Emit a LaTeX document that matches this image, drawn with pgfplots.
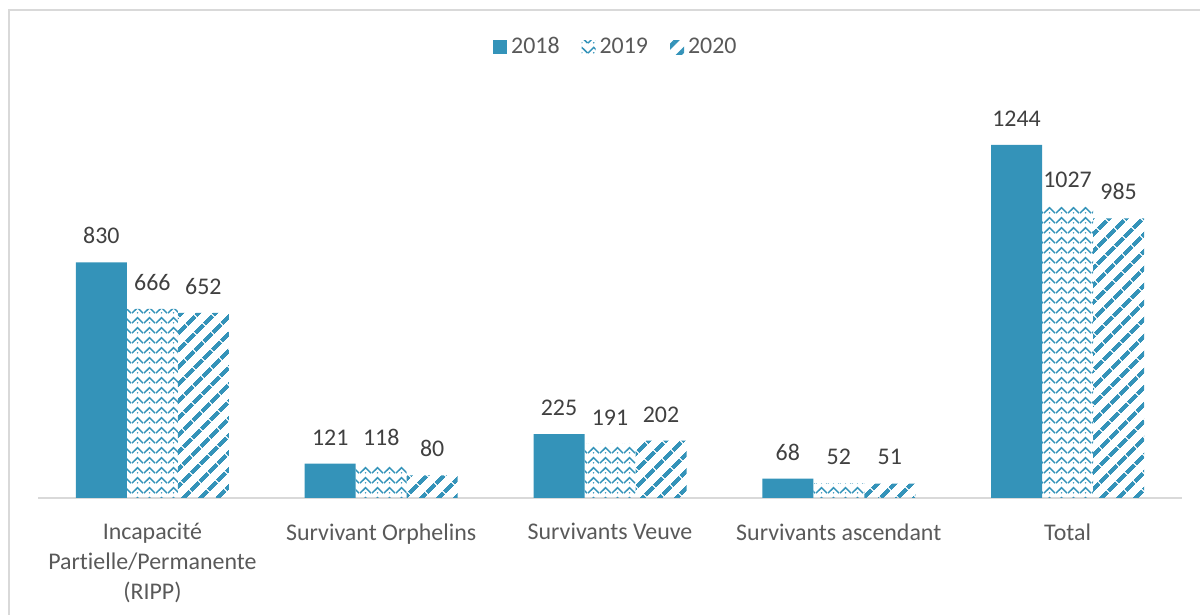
\documentclass[border=0pt]{standalone}
\usepackage{pgfplots}
\pgfplotsset{compat=1.18}
\usepackage{fontspec}
\setmainfont{Carlito}[Ligatures=NoCommon]
\usetikzlibrary{patterns,patterns.meta}
\definecolor{barblue}{RGB}{52,147,185}
\definecolor{labgray}{RGB}{89,89,89}
\definecolor{datgray}{RGB}{64,64,64}
\definecolor{framegray}{RGB}{217,217,217}
\pgfdeclarepattern{
  name=zigzagw,
  type=uncolored,
  bottom left={\pgfpoint{0bp}{0bp}},
  top right={\pgfpoint{6bp}{5bp}},
  tile size={\pgfpoint{6bp}{5bp}},
  code={
    \pgfsetlinewidth{0.8bp}
    \pgfpathmoveto{\pgfpoint{0bp}{1bp}}
    \pgfpathlineto{\pgfpoint{3bp}{4bp}}
    \pgfpathlineto{\pgfpoint{6bp}{1bp}}
    \pgfusepath{stroke}
    \pgfpathcircle{\pgfpoint{3bp}{1.2bp}}{0.45bp}
    \pgfusepath{fill}
  }
}
\begin{document}
\begin{tikzpicture}
\useasboundingbox (0,0) rectangle (600bp,307.5bp);
\draw[framegray, line width=1bp] (4.5bp,-2bp) -- (4.5bp,302.5bp) -- (602bp,302.5bp);
\begin{axis}[
  at={(19bp,58.5bp)}, anchor=south west,
  scale only axis, width=572bp, height=199bp,
  xmin=-0.5, xmax=4.5, ymin=0, ymax=1402,
  ybar=0pt, bar width=25.5bp,
  axis y line=none,
  axis x line*=bottom,
  x axis line style={framegray, line width=1bp, -},
  xtick={0,1,2,3,4},
  xticklabels={{Incapacité\\Partielle/Permanente\\(RIPP)},{Survivant Orphelins},{Survivants Veuve},{Survivants ascendant},{Total}},
  xtick style={draw=none},
  xticklabel style={align=center, font={\fontsize{12}{15}\selectfont}, text=labgray, anchor=north, yshift=-5bp},
  nodes near coords,
  /pgf/number format/assume math mode=true,
  /pgf/number format/1000 sep={},
  every node near coord/.append style={font=\fontsize{12}{14}\selectfont, text=datgray, anchor=south, inner sep=0pt, yshift=9bp},
  legend style={at={(rel axis cs:0.506,1.133)}, anchor=center, draw=none, fill=none,
    font=\fontsize{12}{14}\selectfont, text=labgray, legend columns=-1,
    /tikz/every even column/.append style={column sep=9bp}},
  legend image code/.code={\draw[#1, draw=none] (-3bp,-3.5bp) rectangle (4bp,3.5bp);},
]
\addplot[fill=barblue, draw=none] coordinates {(0,830) (1,121) (2,225) (3,68) (4,1244)};
\addplot[draw=none, pattern={zigzagw}, pattern color=barblue] coordinates {(0,666) (1,118) (2,191) (3,52) (4,1027)};
\addplot[draw=none, pattern={Lines[angle=45, distance=6bp, line width=2.2bp]}, pattern color=barblue] coordinates {(0,652) (1,80) (2,202) (3,51) (4,985)};
\legend{2018,2019,2020}
\end{axis}
\end{tikzpicture}
\end{document}
